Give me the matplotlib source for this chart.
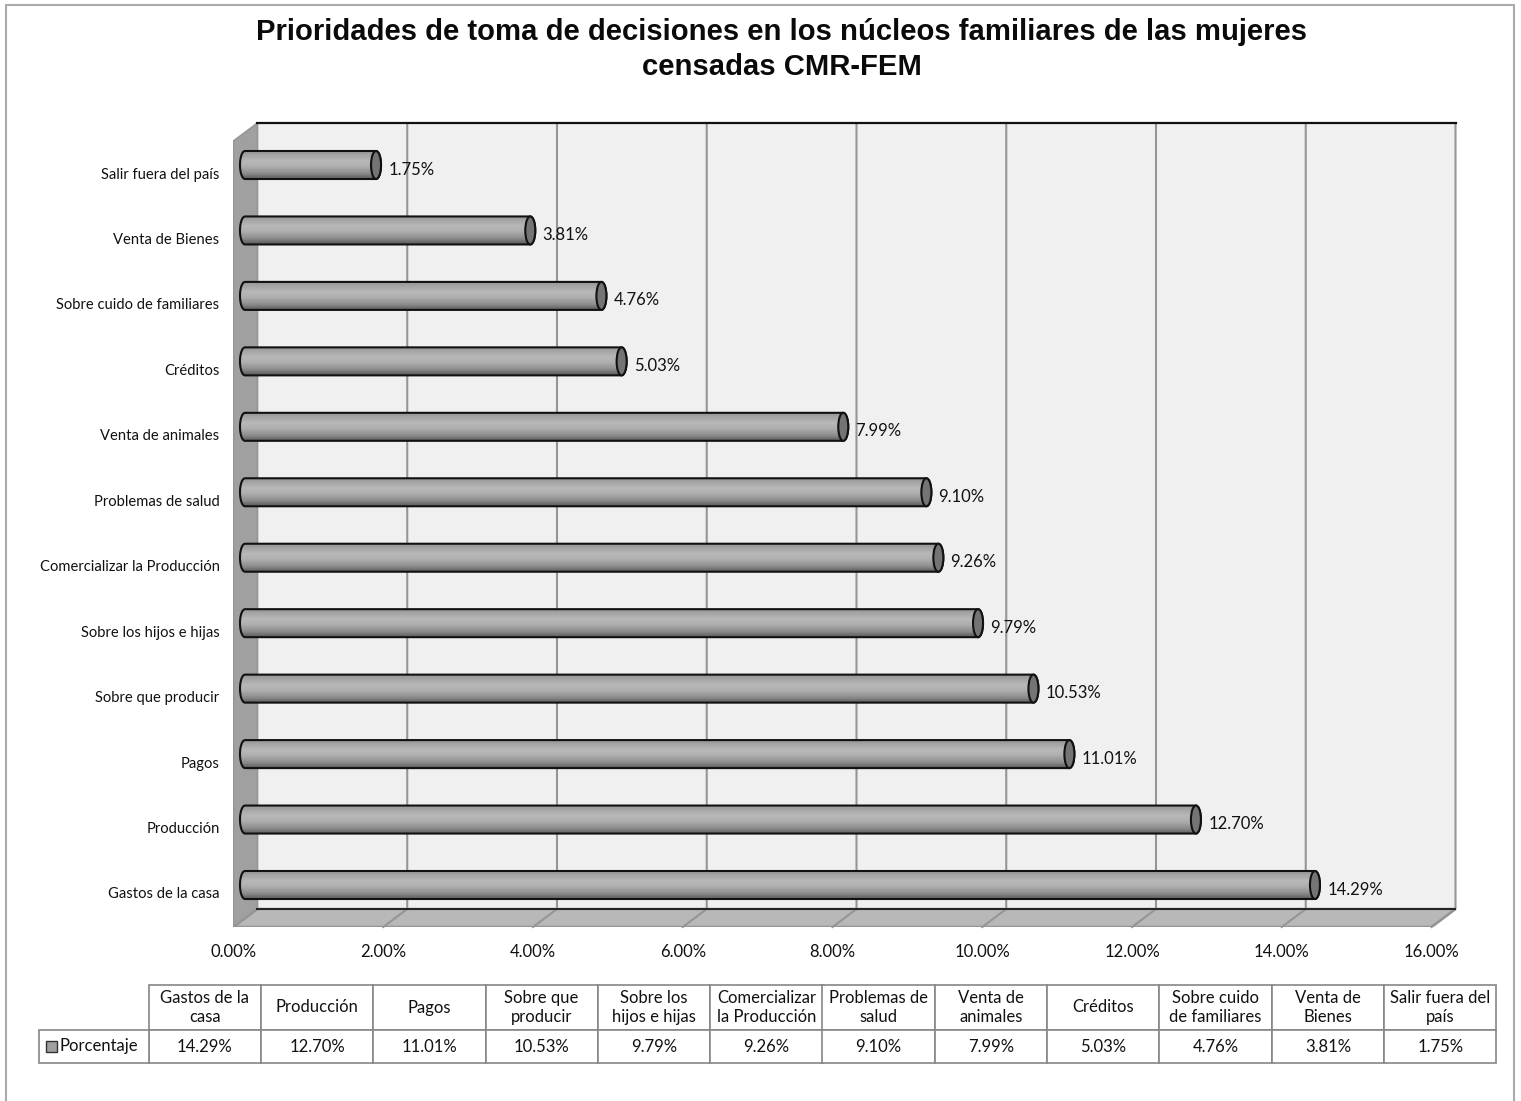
import numpy as np
import matplotlib
matplotlib.use('Agg')
from matplotlib import pyplot as plt
from matplotlib.patches import Polygon, PathPatch, Ellipse, Rectangle
from matplotlib.path import Path

categories=['Gastos de la casa','Producción','Pagos','Sobre que producir','Sobre los hijos e hijas',
            'Comercializar la Producción','Problemas de salud','Venta de animales','Créditos',
            'Sobre cuido de familiares','Venta de Bienes','Salir fuera del país']
table_heads=['Gastos de la\ncasa','Producción','Pagos','Sobre que\nproducir','Sobre los\nhijos e hijas',
             'Comercializar\nla Producción','Problemas de\nsalud','Venta de\nanimales','Créditos',
             'Sobre cuido\nde familiares','Venta de\nBienes','Salir fuera del\npaís']
values=[14.29,12.70,11.01,10.53,9.79,9.26,9.10,7.99,5.03,4.76,3.81,1.75]
xticks=[0,2,4,6,8,10,12,14,16]
series='Porcentaje'

W,H=1521,1101
plt.rcParams['font.family']=['Lato','DejaVu Sans']
fig=plt.figure(figsize=(W/100,H/100),dpi=100,facecolor='white')

def box(l,t,r,b):
    return [l/W,1-b/H,(r-l)/W,(b-t)/H]

# outer frame of the chart area, its bottom edge falls off the picture
fig.add_artist(Rectangle((6/W,-10/H),(1514-6)/W,(1096+10)/H,transform=fig.transFigure,
                         fill=False,edgecolor='#ababab',linewidth=1.5))

fig.text(782/W,1-49.5/H,'Prioridades de toma de decisiones en los núcleos familiares de las mujeres\ncensadas CMR-FEM',
         ha='center',va='center',fontsize=21.1,fontweight='bold',family='Liberation Sans',color='#0a0a0a',linespacing=1.3)

# main plot, front plane 0-16 with the 3D depth added on the right
ax=fig.add_axes(box(233.5,123,1455.5,927))
pxx=(1432-233.5)/16
pxy=(885-165)/11
dx=24/pxx
dy=18/pxy
bot=-42/pxy
top=11+42/pxy
ax.set_xlim(0,16+dx)
ax.set_ylim(bot,top)
ax.patch.set_visible(False)
for s in ax.spines.values():
    s.set_visible(False)

edge='#959595'
ax.add_patch(Polygon([(dx,bot+dy),(16+dx,bot+dy),(16+dx,top),(dx,top)],facecolor='#f0f0f0',edgecolor='none',zorder=1))
ax.add_patch(Polygon([(0,bot),(dx,bot+dy),(dx,top),(0,top-dy)],facecolor='#a0a0a0',edgecolor=edge,linewidth=1.2,zorder=2))
ax.add_patch(Polygon([(0,bot),(16,bot),(16+dx,bot+dy),(dx,bot+dy)],facecolor='#b8b8b8',edgecolor=edge,linewidth=1.8,zorder=2))
for t in xticks[1:]:
    ax.plot([t,t+dx,t+dx],[bot,bot+dy,top],color=edge,linewidth=1.5,zorder=3,clip_on=False)
ax.plot([dx,16+dx],[top,top],color='#111111',linewidth=1.6,zorder=4,clip_on=False)
ax.plot([dx,16+dx],[bot+dy,bot+dy],color='#222222',linewidth=1.4,zorder=4)

# cylinders
off=(245-233.5)/pxx
rx=5/pxx
ry=14/pxy
stops=np.interp(np.linspace(0,1,64),[0,0.35,0.55,0.8,1],[150,184,174,140,92]).reshape(-1,1)
th=np.linspace(np.pi/2,3*np.pi/2,30)
for i,v in enumerate(values):
    x0=off
    x1=off+v
    outline=np.vstack([np.column_stack([x0+rx*np.cos(th),i+ry*np.sin(th)]),
                       np.column_stack([x1-rx*np.cos(th),i-ry*np.sin(th)]),
                       [[x0,i+ry]]])
    ax.add_patch(PathPatch(Path(outline),facecolor='#a8a8a8',edgecolor='none',zorder=4.5))
    p=PathPatch(Path(outline),facecolor='none',edgecolor='#111111',linewidth=1.5,zorder=6)
    ax.add_patch(p)
    im=ax.imshow(stops,extent=(x0-2*rx,x1+2*rx,i-ry,i+ry),cmap='gray',vmin=0,vmax=255,aspect='auto',
                 interpolation='nearest',zorder=5)
    im.set_clip_path(p)
    ax.add_patch(Ellipse((x1,i),2*rx,2*ry,facecolor='#747474',edgecolor='#111111',linewidth=1.5,zorder=7))
    ax.annotate(f'{v:.2f}%',(x1,i),xytext=(8.8,-3.3),textcoords='offset points',ha='left',va='center',
                fontsize=12,color='#111111',zorder=8)
ax.set_xlim(0,16+dx)
ax.set_ylim(bot,top)

ax.set_xticks(xticks)
ax.set_xticklabels([f'{t:.2f}%' for t in xticks],fontsize=12,color='#111111')
ax.set_yticks(np.arange(len(categories))-8/pxy)
ax.set_yticklabels(categories,fontsize=10.65,color='#111111')
ax.tick_params(axis='x',length=0,pad=12.2)
ax.tick_params(axis='y',length=0,pad=10)

# data table below
tax=fig.add_axes(box(38.5,985,1496.5,1063))
tax.axis('off')
tb=tax.table(cellText=[table_heads,[f'{v:.2f}%' for v in values]],
             rowLabels=None,cellLoc='center',bbox=[110/1458,0,1348/1458,1])
tb.auto_set_font_size(False)
tb.set_fontsize(12)
for (r,c),cell in tb.get_celld().items():
    cell.set_edgecolor('#868686')
    cell.set_linewidth(1.2)
    cell.set_height(45/78 if r==0 else 33/78)
    cell.get_text().set_color('#111111')
    cell.get_text().set_linespacing(1.3)
tax.set_xlim(0,1458)
tax.set_ylim(0,78)
tax.add_patch(Rectangle((0,0),110,33,facecolor='white',edgecolor='#868686',linewidth=1.2,clip_on=False))
tax.add_patch(Rectangle((7,11.5),11,11,facecolor='#a0a0a0',edgecolor='#333333',linewidth=1,clip_on=False))
tax.text(21,16.5,series,ha='left',va='center',fontsize=12,color='#111111')

fig.savefig('out.png',dpi=100)
